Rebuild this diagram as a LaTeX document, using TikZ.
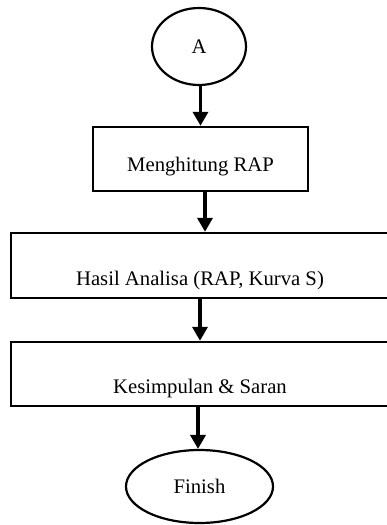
\documentclass[tikz,border=0pt]{standalone}
\usepackage{fontspec}
\setmainfont{Liberation Serif}
\usetikzlibrary{shapes.geometric,arrows.meta}
\begin{document}
\begin{tikzpicture}[x=1pt,y=-1pt,>={Triangle[width=15pt,length=14pt]},
    box/.style={draw,line width=2.4pt,minimum height=64pt,inner sep=0pt,text depth=0pt,font=\fontsize{20.7}{25}\selectfont},
    oval/.style={draw,ellipse,line width=2.2pt,inner sep=0pt,font=\fontsize{20.7}{25}\selectfont},
    arr/.style={->,line width=3.5pt}]
\useasboundingbox (0,0) rectangle (387,525);
\node[oval,minimum width=94pt,minimum height=77pt](a) at (199,46.5){A};
\node[box,minimum width=215pt,text height=24pt](rap) at (200.5,159){Menghitung RAP};
\node[box,minimum width=378pt,minimum height=65pt,text height=40pt](hasil) at (200,265.5){Hasil Analisa (RAP, Kurva S)};
\node[box,minimum width=378pt,text height=38pt](kes) at (200,374){Kesimpulan \& Saran};
\node[oval,minimum width=147pt,minimum height=73pt](fin) at (199.5,486.5){Finish};
\draw[arr]([xshift=1.5pt]a.south)--([xshift=1.5pt]a.south |- rap.north);
\draw[arr]([xshift=4.5pt]rap.south)--([xshift=4.5pt]rap.south |- hasil.north);
\draw[arr](hasil.south)--(hasil.south |- kes.north);
\draw[arr]([xshift=-2pt]kes.south)--([xshift=-2pt]kes.south |- fin.north);
\end{tikzpicture}
\end{document}
